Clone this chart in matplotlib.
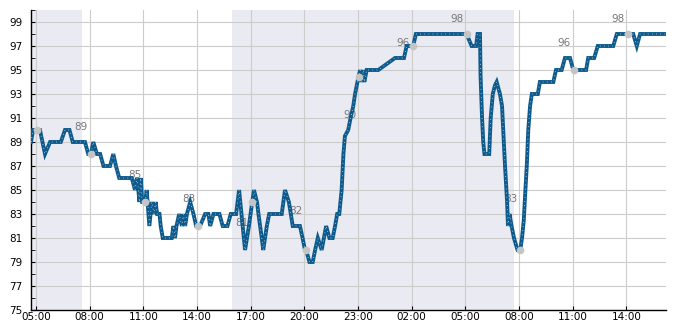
import matplotlib
matplotlib.use("Agg")
import matplotlib.pyplot as plt
import matplotlib.dates as mdates
from datetime import datetime, timedelta

start = datetime(2024, 1, 15, 5, 0)

# minutes after 05:00 on day one, and the reading at that time
minutes = [-17, -10, 4, 13, 30, 47, 83, 97, 112, 123, 164, 175, 184, 192, 204, 215,
           226, 248, 259, 268, 279, 321, 332, 338, 343, 347, 351, 356, 366, 371, 380,
           388, 396, 401, 406, 414, 418, 425, 455, 461, 466, 471, 480, 489, 494, 500,
           506, 517, 528, 537, 544, 550, 567, 578, 584, 595, 615, 626, 642, 653, 671,
           681, 701, 714, 725, 731, 741, 746, 757, 762, 774, 782, 824, 835, 848, 861,
           885, 894, 902, 906, 917, 928, 936, 945, 958, 973, 984, 995, 1003, 1010,
           1017, 1025, 1031, 1036, 1047, 1055, 1064, 1070, 1078, 1087, 1092, 1098,
           1101, 1109, 1148, 1176, 1204, 1234, 1243, 1265, 1274, 1444, 1461, 1476,
           1481, 1489, 1491, 1496, 1500, 1504, 1520, 1525, 1532, 1539, 1545, 1556,
           1563, 1567, 1573, 1580, 1583, 1588, 1595, 1603, 1615, 1624, 1630, 1636,
           1640, 1646, 1651, 1657, 1663, 1683, 1690, 1735, 1744, 1763, 1774, 1791,
           1802, 1845, 1852, 1872, 1884, 1936, 1948, 2003, 2015, 2026, 2113]
values = [89, 90, 90, 90, 88, 89, 89, 90, 90, 89, 89, 88, 88, 89, 88, 88,
          87, 87, 88, 87, 86, 86, 85, 86, 85, 84, 86, 84, 84, 85, 82,
          84, 83, 84, 83, 83, 82, 81, 81, 82, 81, 82, 83, 82, 83, 82,
          83, 84, 83, 82, 82, 82, 83, 83, 82, 83, 83, 82, 82, 83, 83,
          85, 80, 82, 84, 85, 84, 83, 81, 80, 82, 83, 83, 85, 84, 82,
          82, 81, 80, 80, 79, 79, 80, 81, 80, 82, 81, 81, 82, 83,
          83, 85, 88, 89.5, 90, 91, 92, 93, 94, 95, 94, 95,
          94, 95, 95, 95.5, 96, 96, 97, 97, 98, 98, 97, 97,
          98, 98, 94.5, 91, 89, 88, 88, 91, 93, 93.7, 94, 93,
          92, 90, 87, 84, 82, 83, 82, 81, 80, 80, 81, 82.5,
          84.4, 87, 90, 92, 93, 93, 94, 94, 95, 95, 96, 96,
          95, 95, 96, 96, 97, 97, 98, 98, 97, 98, 98]

# grey markers every three hours with their labels
dot_minutes = [4, 184, 364, 544, 724, 904, 1084, 1264, 1444, 1624, 1804, 1984]
dot_values = [90, 88, 84, 82, 84, 80, 94.4, 97, 98, 80, 95, 98]
label_values = [None, 89, 85, 83, 81, 82, 90, 96, 98, 83, 96, 98]

# dark periods (minutes after 05:00)
night_spans = [(-17, 153), (658, 1602)]

x_left, x_right = -17, 2113

t = [start + timedelta(minutes=m) for m in minutes]
t_dots = [start + timedelta(minutes=m) for m in dot_minutes]

fig = plt.figure(figsize=(6.85, 3.3), dpi=100)
ax = fig.add_axes([31 / 685, 20 / 330, 635 / 685, 300 / 330])

for a, b in night_spans:
    ax.axvspan(start + timedelta(minutes=a), start + timedelta(minutes=b),
               color="#eaeaf2", lw=0, zorder=0)

ax.plot(t, values, color="#0d5a8c", lw=2.8, solid_joinstyle="miter", zorder=3)
# faint speckle along the middle of the line
ax.plot(t, values, color="#c8d8e6", lw=0.6, linestyle=(0, (1, 4)), zorder=3.1)
ax.plot(t_dots, dot_values, "o", color="#c4c4c4", ms=5.5, mec="none", zorder=4)

for td, lv in zip(t_dots, label_values):
    if lv is None:
        continue
    ax.annotate(str(lv), xy=(td, lv), xytext=(-3, 12), textcoords="offset pixels",
                ha="right", va="baseline", fontsize=7.5, color="#777777", zorder=2.5)

ax.set_xlim(start + timedelta(minutes=x_left), start + timedelta(minutes=x_right))
ax.set_ylim(75, 100)
ax.set_yticks(range(75, 100, 2))
ax.set_yticks(range(76, 101, 2), minor=True)
ax.xaxis.set_major_locator(mdates.HourLocator(byhour=[2, 5, 8, 11, 14, 17, 20, 23]))
ax.xaxis.set_major_formatter(mdates.DateFormatter("%H:%M"))

ax.grid(True, which="major", color="#cccccc", lw=0.8)
ax.set_axisbelow(True)
for s in ["top", "right"]:
    ax.spines[s].set_visible(False)
ax.spines["left"].set_linewidth(1)
ax.spines["bottom"].set_linewidth(1)
ax.tick_params(axis="both", which="both", direction="in", length=3, labelsize=7.5)
ax.tick_params(axis="y", which="major", pad=6.3)
ax.tick_params(axis="x", which="major", pad=1.5)

fig.savefig("out.png", dpi=100)
